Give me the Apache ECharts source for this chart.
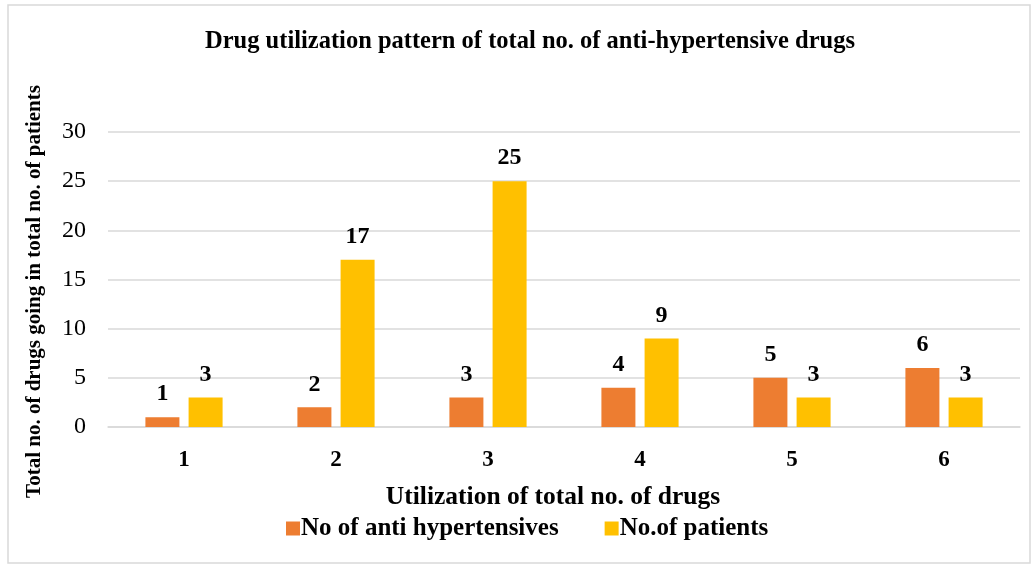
<!DOCTYPE html>
<html>
<head>
<meta charset="utf-8">
<script src="https://cdn.jsdelivr.net/npm/echarts@6/dist/echarts.min.js"></script>
<style>
  html, body { margin: 0; padding: 0; background: #fff; }
  #chart { width: 1034px; height: 566px; }
</style>
</head>
<body>
<div id="chart"></div>
<script>
// data
var categories = ['1', '2', '3', '4', '5', '6'];
var antiHypertensives = [1, 2, 3, 4, 5, 6];
var patients = [3, 17, 25, 9, 3, 3];

var serif = '"Liberation Serif", "Times New Roman", serif';

var chart = echarts.init(document.getElementById('chart'));
var labelStyle = {
  show: true,
  position: 'top',
  distance: 11,
  color: '#000',
  fontFamily: serif,
  fontWeight: 'bold',
  fontSize: 24
};

var option = {
  backgroundColor: '#fff',
  animation: false,
  title: {
    text: 'Drug utilization pattern of total no. of anti-hypertensive drugs',
    left: 525,
    textAlign: 'center',
    top: 24,
    textStyle: {
      fontFamily: serif,
      fontWeight: 'bold',
      fontSize: 24.5,
      color: '#000'
    }
  },
  graphic: [{
    type: 'rect',
    shape: { x: 8, y: 5, width: 1022, height: 558 },
    style: { fill: 'none', stroke: '#d9d9d9', lineWidth: 1.5 },
    silent: true
  }],
  legend: {
    bottom: 20,
    left: 281,
    itemWidth: 14,
    itemHeight: 14,
    itemGap: 46,
    icon: 'rect',
    textStyle: {
      fontFamily: serif,
      fontWeight: 'bold',
      fontSize: 25,
      color: '#000',
      padding: [0, 0, 0, -4]
    }
  },
  grid: {
    left: 108,
    right: 14,
    top: 132,
    bottom: 139
  },
  xAxis: {
    type: 'category',
    data: categories,
    name: 'Utilization of total no. of drugs',
    nameLocation: 'middle',
    nameGap: 57,
    nameTextStyle: {
      fontFamily: serif,
      fontWeight: 'bold',
      fontSize: 25.5,
      color: '#000',
      padding: [0, 22, 0, 0]
    },
    axisLine: { lineStyle: { color: '#d9d9d9', width: 1.5 } },
    axisTick: { show: false },
    axisLabel: {
      margin: 22,
      fontFamily: serif,
      fontWeight: 'bold',
      fontSize: 23,
      color: '#000'
    }
  },
  yAxis: {
    type: 'value',
    min: 0,
    max: 30,
    interval: 5,
    name: 'Total no. of drugs going in total no. of patients',
    nameLocation: 'middle',
    nameGap: 63,
    nameTextStyle: {
      fontFamily: serif,
      fontWeight: 'bold',
      fontSize: 21,
      color: '#000',
      padding: [0, 24, 0, 0]
    },
    axisLine: { show: false },
    axisTick: { show: false },
    splitLine: { lineStyle: { color: '#d9d9d9', width: 1.5 } },
    axisLabel: {
      margin: 22,
      fontFamily: serif,
      fontSize: 24,
      color: '#000'
    }
  },
  series: [
    {
      name: 'No of anti hypertensives',
      type: 'bar',
      data: antiHypertensives,
      barWidth: 34,
      barGap: '27%',
      itemStyle: { color: '#ED7D31' },
      label: labelStyle
    },
    {
      name: 'No.of patients',
      type: 'bar',
      data: patients,
      barWidth: 34,
      itemStyle: { color: '#FFC000' },
      label: labelStyle
    }
  ]
};
chart.setOption(option);
</script>
</body>
</html>
